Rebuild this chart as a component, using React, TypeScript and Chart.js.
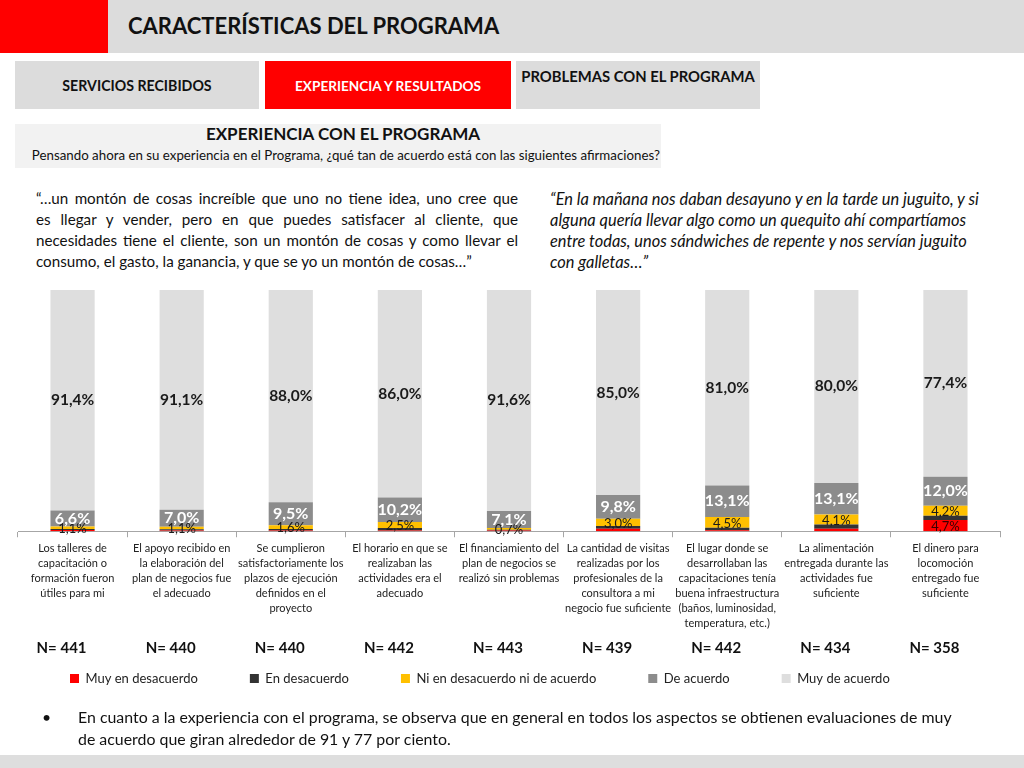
import React, { useEffect, useRef } from "react";
import { Chart, registerables } from "chart.js";
Chart.register(...registerables);

const FONT = "Lato, 'Open Sans', sans-serif";

const categories: string[][] = [
  ["Los talleres de", "capacitación o", "formación fueron", "útiles para mi"],
  ["El apoyo recibido en", "la elaboración del", "plan de negocios fue", "el adecuado"],
  ["Se cumplieron", "satisfactoriamente los", "plazos de ejecución", "definidos en el", "proyecto"],
  ["El horario en que se", "realizaban las", "actividades era el", "adecuado"],
  ["El financiamiento del", "plan de negocios se", "realizó sin problemas"],
  ["La cantidad de visitas", "realizadas por los", "profesionales de la", "consultora a mi", "negocio fue suficiente"],
  ["El lugar donde se", "desarrollaban las", "capacitaciones tenía", "buena infraestructura", "(baños, luminosidad,", "temperatura, etc.)"],
  ["La alimentación", "entregada durante las", "actividades fue", "suficiente"],
  ["El dinero para", "locomoción", "entregado fue", "suficiente"],
];
const sampleSizes = [441, 440, 440, 442, 443, 439, 442, 434, 358];
const muyEnDesacuerdo = [0.5, 0.3, 0.3, 0.3, 0.3, 1.0, 0.4, 1.0, 4.7];
const enDesacuerdo = [0.4, 0.5, 0.6, 1.0, 0.3, 1.2, 1.0, 1.8, 1.7];
const niNi = [1.1, 1.1, 1.6, 2.5, 0.7, 3.0, 4.5, 4.1, 4.2];
const deAcuerdo = [6.6, 7.0, 9.5, 10.2, 7.1, 9.8, 13.1, 13.1, 12.0];
const muyDeAcuerdo = [91.4, 91.1, 88.0, 86.0, 91.6, 85.0, 81.0, 80.0, 77.4];
const seriesNames = ["Muy en desacuerdo", "En desacuerdo", "Ni en desacuerdo ni de acuerdo", "De acuerdo", "Muy de acuerdo"];
const seriesColors = ["#ff0000", "#333333", "#ffc000", "#8c8c8c", "#dedede"];

const fmt = (v: number) => v.toFixed(1).replace(".", ",") + "%";

const labelPlugin = {
  id: "segLabels",
  afterUpdate(chart: any) {
    const lg = chart.legend;
    if (lg && !lg._shifted) {
      const orig = lg.draw.bind(lg);
      lg.draw = function (...args: any[]) {
        const ctx = chart.ctx;
        ctx.save();
        ctx.translate(0, -15);
        orig(...args);
        ctx.restore();
      };
      lg._shifted = true;
    }
  },
  afterDatasetsDraw(chart: any) {
    const ctx = chart.ctx;
    ctx.save();
    ctx.textAlign = "center";
    ctx.textBaseline = "middle";
    chart.data.datasets.forEach((ds: any, di: number) => {
      const meta = chart.getDatasetMeta(di);
      meta.data.forEach((el: any, i: number) => {
        const v = ds.data[i];
        const y = (el.y + el.base) / 2;
        if (di === 4) {
          ctx.font = `bold 15.5px ${FONT}`;
          ctx.fillStyle = "#1a1a1a";
          ctx.fillText(fmt(v), el.x, y);
        } else if (di === 3) {
          ctx.font = `bold 16px ${FONT}`;
          ctx.fillStyle = "#ffffff";
          ctx.fillText(fmt(v), el.x, y);
        } else if (di === 2) {
          ctx.font = `13px ${FONT}`;
          ctx.fillStyle = "#1a1a1a";
          ctx.fillText(fmt(v), el.x, y + 1);
        } else if (di === 0 && v > 2) {
          ctx.font = `13px ${FONT}`;
          ctx.fillStyle = "#3a0000";
          ctx.fillText(fmt(v), el.x, y + 1);
        }
      });
    });
    const meta0 = chart.getDatasetMeta(0);
    ctx.font = `bold 15px ${FONT}`;
    ctx.fillStyle = "#111";
    meta0.data.forEach((el: any, i: number) => {
      ctx.fillText("N= " + sampleSizes[i], el.x - 11, chart.chartArea.bottom + 117);
    });
    ctx.restore();
  },
};

function BarChart() {
  const ref = useRef<HTMLCanvasElement>(null);
  useEffect(() => {
    const values = [muyEnDesacuerdo, enDesacuerdo, niNi, deAcuerdo, muyDeAcuerdo];
    const chart = new Chart(ref.current!, {
      type: "bar",
      data: {
        labels: categories,
        datasets: values.map((d, i) => ({
          label: seriesNames[i],
          data: d,
          backgroundColor: seriesColors[i],
          borderWidth: 0,
          barPercentage: 0.405,
          categoryPercentage: 1,
        })),
      },
      options: {
        animation: false,
        responsive: false,
        maintainAspectRatio: false,
        layout: { padding: { left: 18, right: 24, top: 8, bottom: 0 } },
        plugins: {
          legend: {
            position: "bottom",
            align: "start",
            labels: {
              boxWidth: 9,
              boxHeight: 9,
              padding: 52,
              color: "#222",
              font: { family: FONT, size: 13 },
            },
          },
          tooltip: { enabled: false },
        },
        scales: {
          x: {
            stacked: true,
            grid: { offset: true, drawOnChartArea: false, tickLength: 6, color: "#a6a6a6" },
            border: { color: "#a6a6a6" },
            ticks: {
              autoSkip: false,
              maxRotation: 0,
              padding: 4,
              color: "#222",
              font: { family: FONT, size: 11, lineHeight: 1.36 },
            },
          },
          y: { stacked: true, min: 0, max: 100, display: false },
        },
      },
      plugins: [labelPlugin],
    });
    return () => chart.destroy();
  }, []);
  return <canvas ref={ref} width={1024} height={428} style={{ position: "absolute", left: 0, top: 282, width: 1024, height: 428 }} />;
}

const abs = (s: React.CSSProperties): React.CSSProperties => ({ position: "absolute", ...s });

const leftQuote = [
  "“…un montón de cosas increíble que uno no tiene idea, uno cree que",
  "es llegar y vender, pero en que puedes satisfacer al cliente, que",
  "necesidades tiene el cliente, son un montón de cosas y como llevar el",
  "consumo, el gasto, la ganancia, y que se yo un montón de cosas…”",
];
const rightQuote = [
  "“En la mañana nos daban desayuno y en la tarde un juguito, y si",
  "alguna quería llevar algo como un quequito ahí compartíamos",
  "entre todas, unos sándwiches de repente y nos servían juguito",
  "con galletas…”",
];

export default function App() {
  return (
    <div style={abs({ left: 0, top: 0, width: 1024, height: 768, background: "#fff", fontFamily: FONT, color: "#111", overflow: "hidden" })}>
      <div style={abs({ left: 0, top: 0, width: 108, height: 53, background: "#ff0000" })} />
      <div style={abs({ left: 108, top: 0, width: 916, height: 53, background: "#dcdcdc" })} />
      <div style={abs({ left: 128, top: 10, fontSize: 22, fontWeight: 700, lineHeight: "32px", color: "#111" })}>CARACTERÍSTICAS DEL PROGRAMA</div>

      <div style={abs({ left: 15, top: 61, width: 244, height: 48, background: "#dcdcdc", display: "flex", alignItems: "center", justifyContent: "center", fontSize: 14.2, fontWeight: 700 })}>SERVICIOS RECIBIDOS</div>
      <div style={abs({ left: 265, top: 61, width: 246, height: 48, background: "#ff0000", color: "#fff", display: "flex", alignItems: "center", justifyContent: "center", fontSize: 13.6, fontWeight: 700, paddingTop: 2, boxSizing: "border-box" })}>EXPERIENCIA Y RESULTADOS</div>
      <div style={abs({ left: 516, top: 61, width: 244, height: 48, background: "#dcdcdc", textAlign: "center", fontSize: 14.8, fontWeight: 700, lineHeight: "30px", whiteSpace: "nowrap" })}>PROBLEMAS CON EL PROGRAMA</div>

      <div style={abs({ left: 15, top: 124, width: 646, height: 44, background: "#f2f2f2" })} />
      <div style={abs({ left: 15, top: 122, width: 646, textAlign: "center", fontSize: 17, fontWeight: 700, lineHeight: "24px", paddingLeft: 10, boxSizing: "border-box" })}>EXPERIENCIA CON EL PROGRAMA</div>
      <div style={abs({ left: 15, top: 146, width: 646, textAlign: "right", paddingRight: 1, boxSizing: "border-box", fontSize: 13.3, lineHeight: "18px", whiteSpace: "nowrap" })}>Pensando ahora en su experiencia en el Programa, ¿qué tan de acuerdo está con las siguientes afirmaciones?</div>

      <div style={abs({ left: 36, top: 188, width: 482, fontSize: 15.2, lineHeight: "21px", color: "#111" })}>
        {leftQuote.map((l, i) => (
          <div key={i} style={{ textAlign: "justify", textAlignLast: i < leftQuote.length - 1 ? "justify" : "left", whiteSpace: "nowrap" as any }}>{l}</div>
        ))}
      </div>
      <div style={abs({ left: 550, top: 188, width: 470, fontSize: 16.4, lineHeight: "21px", fontStyle: "italic", color: "#111" })}>
        {rightQuote.map((l, i) => (
          <div key={i} style={{ whiteSpace: "nowrap" }}>{l}</div>
        ))}
      </div>

      <BarChart />

      <div style={abs({ left: 42, top: 706, fontSize: 15.8, lineHeight: "22px" })}>•</div>
      <div style={abs({ left: 78, top: 706, width: 940, fontSize: 15.9, lineHeight: "22px" })}>
        <div style={{ whiteSpace: "nowrap" }}>En cuanto a la experiencia con el programa, se observa que en general en todos los aspectos se obtienen evaluaciones de muy</div>
        <div style={{ whiteSpace: "nowrap" }}>de acuerdo que giran alrededor de 91 y 77 por ciento.</div>
      </div>
      <div style={abs({ left: 0, top: 755, width: 1024, height: 13, background: "#dedede" })} />
    </div>
  );
}
